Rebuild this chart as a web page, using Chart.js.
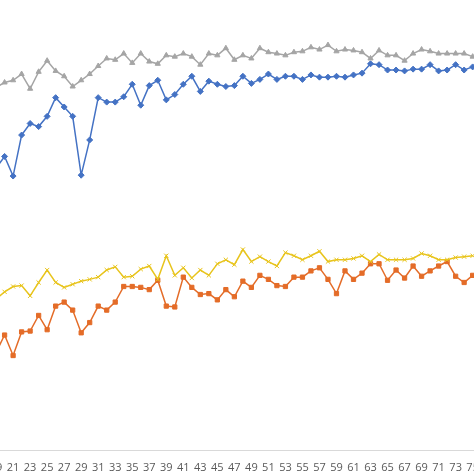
<!DOCTYPE html>
<html>
<head>
<meta charset="utf-8">
<script src="https://cdn.jsdelivr.net/npm/chart.js@4/dist/chart.umd.min.js"></script>
<style>
  html, body { margin: 0; padding: 0; background: #fff; }
  #wrap { position: relative; width: 474px; height: 474px; overflow: hidden; }
  #box { position: absolute; left: -77px; top: 0; width: 610px; height: 500px; }
</style>
</head>
<body>
<div id="wrap"><div id="box"><canvas id="c"></canvas></div></div>
<script>
const epochs = [];
for (let e = 19; e <= 75; e++) epochs.push(e);

const gray = [81.5, 82.6, 83.1, 84.5, 81.2, 85.0, 87.5, 85.2, 84.0, 81.7, 83.1, 84.5, 86.3, 88.0, 87.7, 89.1, 87.0, 89.1, 87.3, 86.8, 88.7, 88.4, 89.1, 88.4, 86.6, 89.1, 88.7, 90.3, 87.7,
  88.7, 88.0, 90.3, 89.4, 89.1, 88.7, 89.4, 89.6, 90.5, 90.0, 91.0, 89.6, 90.0, 89.8, 89.4, 88.0, 89.8, 88.7, 88.7, 87.5, 89.1, 90.0, 89.6, 89.1, 89.1, 89.1, 89.1, 88.4];
const blue = [63.4, 66.0, 61.6, 70.8, 73.4, 72.7, 75.0, 79.2, 77.1, 75.0, 61.8, 69.7, 79.2, 78.2, 78.2, 79.4, 82.2, 77.5, 81.9, 83.1, 78.7, 79.9, 82.2, 84.0, 80.6, 82.9, 82.2, 81.7, 81.9,
  84.0, 82.4, 83.3, 84.5, 83.3, 84.0, 84.0, 83.3, 84.3, 83.8, 83.8, 84.0, 83.8, 84.3, 84.7, 86.8, 86.6, 85.4, 85.4, 85.2, 85.6, 85.6, 86.6, 85.2, 85.4, 86.6, 85.4, 86.1];
const yellow = [34.0, 35.6, 36.8, 37.0, 34.7, 37.7, 40.5, 37.7, 36.6, 37.3, 38.0, 38.4, 38.9, 40.5, 41.2, 38.9, 39.1, 40.7, 41.4, 38.4, 43.7, 39.3, 41.0, 38.7, 40.5, 39.3, 41.9, 42.8, 41.7,
  45.1, 42.4, 43.5, 42.4, 41.4, 44.4, 43.7, 42.8, 43.7, 44.7, 42.4, 42.8, 42.8, 43.1, 43.7, 42.4, 44.0, 42.8, 42.8, 42.8, 43.1, 44.2, 43.7, 42.8, 42.8, 43.3, 43.5, 43.7];
const orange = [22.0, 25.9, 21.3, 26.6, 26.8, 30.3, 27.1, 32.4, 33.3, 31.5, 26.4, 28.7, 32.4, 31.5, 33.3, 36.8, 36.8, 36.6, 36.1, 38.2, 32.4, 32.2, 38.9, 36.6, 35.0, 35.2, 33.8, 36.1, 34.5,
  38.0, 36.6, 39.3, 38.4, 37.0, 36.8, 38.9, 38.9, 40.3, 41.0, 38.4, 35.2, 40.3, 38.4, 39.8, 41.9, 41.9, 38.2, 40.5, 38.7, 41.4, 39.1, 40.3, 41.4, 42.4, 39.1, 37.7, 39.3];

function series(vals, color, style) {
  return {
    data: vals.map((v, i) => ({ x: epochs[i], y: v })),
    borderColor: color,
    backgroundColor: color,
    pointStyle: style,
    pointRadius: 3,
    borderWidth: 1.5,
    pointBorderWidth: 1,
    tension: 0
  };
}

new Chart(document.getElementById('c'), {
  type: 'line',
  data: {
    datasets: [
      series(gray, '#a5a5a5', 'triangle'),
      series(blue, '#4472c4', 'rectRot'),
      series(yellow, '#e8c41c', 'crossRot'),
      series(orange, '#e46c28', 'rect')
    ]
  },
  options: {
    animation: false,
    responsive: true,
    maintainAspectRatio: false,
    layout: { padding: 0 },
    plugins: { legend: { display: false }, tooltip: { enabled: false } },
    scales: {
      x: {
        type: 'linear',
        min: 11,
        max: 81,
        grid: { display: false },
        border: { color: '#d9d9d9' },
        ticks: {
          stepSize: 2,
          autoSkip: false,
          maxRotation: 0,
          color: '#595959',
          font: { family: 'Open Sans', size: 11 },
          callback: v => (v >= 19) ? v : ''
        },
        title: { display: true, text: 'EPOCH', color: '#595959', font: { family: 'Open Sans', size: 12 } }
      },
      y: { display: false, min: 0, max: 100 }
    }
  }
});
</script>
</body>
</html>
